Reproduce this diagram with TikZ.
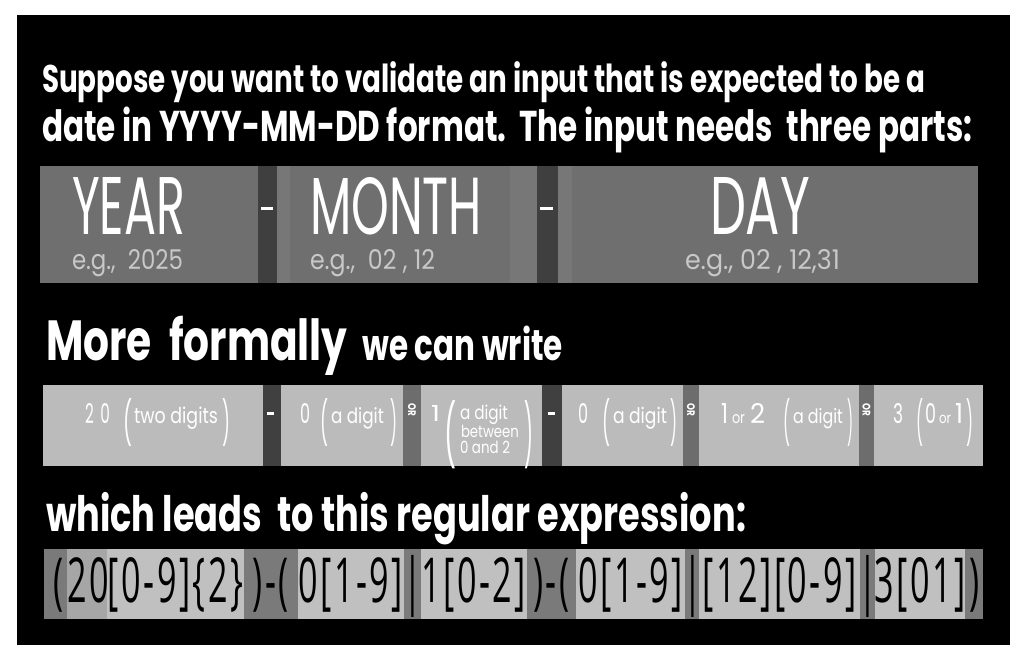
\documentclass[tikz,border=0pt]{standalone}
\usepackage{fontspec}
\usepackage{graphicx}
\setmainfont{Poppins}
\newfontfamily\hand[FakeStretch=0.8]{Poppins}
\newfontfamily\handb[FakeStretch=0.72]{Poppins}
\newfontfamily\mono[FakeStretch=0.55, LetterSpace=4]{Open Sans}
\newcommand\fsz[1]{\fontsize{#1}{#1}\selectfont}
\newcommand\rb[3]{\resizebox{#1pt}{#2pt}{\hand #3}}
\newcommand\rw[2]{\resizebox{#1pt}{!}{\hand #2}}
\newcommand\rwb[2]{\resizebox{#1pt}{!}{\handb\bfseries #2}}
\definecolor{boxA}{HTML}{6F6F6F}
\definecolor{boxAl}{HTML}{777777}
\definecolor{sepA}{HTML}{3F3F3F}
\definecolor{boxB}{HTML}{BBBBBB}
\definecolor{sepB}{HTML}{404040}
\definecolor{orB}{HTML}{6D6D6D}
\definecolor{boxC}{HTML}{C0C0C0}
\definecolor{midC}{HTML}{A6A6A6}
\definecolor{darkC}{HTML}{7A7A7A}
\definecolor{egc}{HTML}{C8C8C8}
\begin{document}
\begin{tikzpicture}[x=1pt,y=-1pt,
  txt/.style={inner sep=0pt, outer sep=0pt, anchor=base west, text=white},
  par/.style={inner sep=0pt, outer sep=0pt, anchor=north west, text=white},
  rx/.style={inner sep=0pt, outer sep=0pt, anchor=base, text=black, font=\mono\fsz{62}},
  orl/.style={inner sep=0pt, text=white, rotate=-90, font=\hand\bfseries\fsz{11}},
  dashl/.style={white, line width=3pt}]
\fill[white] (0,0) rectangle (1030,663);
\useasboundingbox (0,0) rectangle (1030,663);
\fill[black] (17,15) rectangle (1010,645);

% ---- title
\node[txt] (t1) at (42,93) {\rwb{883}{Suppose you want to validate an input that is expected to be a}};
\node[txt] (t2) at (42,142) {\rwb{930}{date in YYYY-MM-DD format.\ \ The input needs\ \ three parts:}};

% ---- row 1
\fill[boxA] (40,166) rectangle (258,283);
\fill[sepA] (258,166) rectangle (277,283);
\fill[boxA] (277,166) rectangle (537,283);
\fill[boxAl] (277,166) rectangle (290,283);
\fill[boxAl] (510,166) rectangle (537,283);
\fill[sepA] (537,166) rectangle (558,283);
\fill[boxA] (558,166) rectangle (978,283);
\fill[boxAl] (558,166) rectangle (572,283);
\coordinate (d1a) at (261,208); \coordinate (d1b) at (273,208);
\coordinate (d2a) at (540,208); \coordinate (d2b) at (553,208);
\draw[dashl] (d1a) -- (d1b);
\draw[dashl] (d2a) -- (d2b);
\node[txt] (year) at (72,234) {\rb{113}{57}{YEAR}};
\node[txt] (month) at (310,234) {\rb{172}{57}{MONTH}};
\node[txt] (day) at (710,234) {\rb{100}{57}{DAY}};
\node[txt, text=egc] (eg1) at (72,269) {\rb{111}{20}{e.g.,\ \ 2025}};
\node[txt, text=egc] (eg2) at (310,269) {\rb{125}{20}{e.g.,\ \ 02 , 12}};
\node[txt, text=egc] (eg3) at (685,269) {\rb{155}{20}{e.g., 02 , 12,31}};

% ---- heading 2
\node[txt] (h2) at (46,360) {\rwb{517}{{\fsz{46}More\ \ formally}\hspace{12pt}{\fsz{35}we can write}}};

% ---- row 2
\fill[boxB] (43,385) rectangle (263,466);
\fill[sepB] (263,385) rectangle (281,466);
\fill[boxB] (281,385) rectangle (403,466);
\fill[orB] (403,385) rectangle (421,466);
\fill[boxB] (421,385) rectangle (542,466);
\fill[sepB] (542,385) rectangle (562,466);
\fill[boxB] (562,385) rectangle (683,466);
\fill[orB] (683,385) rectangle (699,466);
\fill[boxB] (699,385) rectangle (859,466);
\fill[orB] (859,385) rectangle (874,466);
\fill[boxB] (874,385) rectangle (983,466);
\coordinate (d3a) at (267,413); \coordinate (d3b) at (274,413);
\coordinate (d4a) at (548,413); \coordinate (d4b) at (555,413);
\draw[dashl] (d3a) -- (d3b);
\draw[dashl] (d4a) -- (d4b);
\node[orl] (or1) at (412,410) {OR};
\node[orl] (or2) at (691,410) {OR};
\node[orl] (or3) at (866.5,410) {OR};
% box 1
\node[txt] (b1n) at (85,423) {\rb{25}{20}{2\hspace{0.35em}0}};
\node[par] (b1l) at (123,398) {\rb{9}{40}{(}};
\node[txt] (b1t) at (134,423) {\rw{84}{two digits}};
\node[par] (b1r) at (222,398) {\rb{8}{40}{)}};
% box 2
\node[txt] (b2n) at (300,423) {\rb{10}{20}{0}};
\node[par] (b2l) at (320,398) {\rb{8}{40}{(}};
\node[txt] (b2t) at (331,423) {\rw{53}{a digit}};
\node[par] (b2r) at (390,398) {\rb{7}{40}{)}};
% box 3
\node[txt] (b3n) at (431,421) {\rb{9}{16}{1}};
\node[par] (b3l) at (444,400) {\rb{12}{57}{(}};
\node[txt] (b3a) at (460,419) {\rw{48}{a digit}};
\node[txt] (b3b) at (461,437) {\rw{58}{between}};
\node[txt] (b3c) at (460,453) {\rw{50}{0 and 2}};
\node[par] (b3r) at (524,400) {\rb{9}{57}{)}};
% box 4
\node[txt] (b4n) at (578,423) {\rb{10}{20}{0}};
\node[par] (b4l) at (602,398) {\rb{8}{40}{(}};
\node[txt] (b4t) at (613,423) {\rw{54}{a digit}};
\node[par] (b4r) at (670,398) {\rb{7}{40}{)}};
% box 5
\node[txt] (b5a) at (721,423) {\rb{7}{20}{1}};
\node[txt] (b5o) at (732,423) {\rw{13}{or}};
\node[txt] (b5b) at (750,423) {\rb{15}{20}{2}};
\node[par] (b5l) at (783,398) {\rb{7}{40}{(}};
\node[txt] (b5t) at (793,423) {\rw{50}{a digit}};
\node[par] (b5r) at (847,398) {\rb{6}{40}{)}};
% box 6
\node[txt] (b6n) at (893,423) {\rb{10}{20}{3}};
\node[par] (b6l) at (916,398) {\rb{7}{40}{(}};
\node[txt] (b6a) at (925,423) {\rb{11}{20}{0}};
\node[txt] (b6o) at (939,423) {\rw{12}{or}};
\node[txt] (b6b) at (955,423) {\rb{8}{20}{1}};
\node[par] (b6r) at (966,398) {\rb{7}{40}{)}};

% ---- heading 3
\node[txt] (h3) at (46,531) {\rwb{700}{\fsz{40}which leads\ \ to this regular expression:}};

% ---- row 3
\fill[darkC] (44,549) rectangle (67,619);
\fill[midC] (67,549) rectangle (107,619);
\fill[boxC] (107,549) rectangle (244,619);
\fill[darkC] (244,549) rectangle (298,619);
\fill[boxC] (298,549) rectangle (404,619);
\fill[darkC] (404,549) rectangle (421,619);
\fill[boxC] (421,549) rectangle (527,619);
\fill[darkC] (527,549) rectangle (576,619);
\fill[boxC] (576,549) rectangle (685,619);
\fill[darkC] (685,549) rectangle (699,619);
\fill[boxC] (699,549) rectangle (860,619);
\fill[darkC] (860,549) rectangle (875,619);
\fill[boxC] (875,549) rectangle (965,619);
\fill[darkC] (965,549) rectangle (983,619);
\node[rx] (r1) at (59,602) {(};
\node[rx] (r2) at (88,602) {20};
\node[rx] (r3) at (175.5,602) {[0-9]\{2\}};
\node[rx] (r4) at (271,602) {)-(};
\node[rx] (r5) at (351,602) {0[1-9]};
\node[rx] (r6) at (413,602) {|};
\node[rx] (r7) at (474,602) {1[0-2]};
\node[rx] (r8) at (551.5,602) {)-(};
\node[rx] (r9) at (630.5,602) {0[1-9]};
\node[rx] (r10) at (692.5,602) {|};
\node[rx] (r11) at (779.5,602) {[12][0-9]};
\node[rx] (r12) at (868,602) {|};
\node[rx] (r13) at (920,602) {3[01]};
\node[rx] (r14) at (974.5,602) {)};
\end{tikzpicture}
\end{document}
